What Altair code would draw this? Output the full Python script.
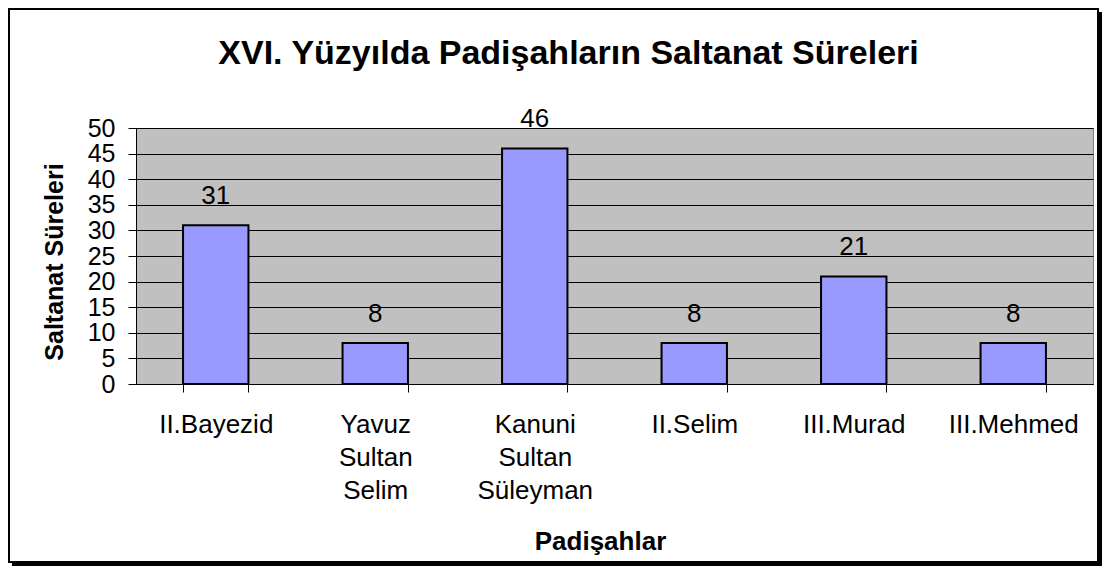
import altair as alt
import pandas as pd

# ---- data ----
sultans = ["II.Bayezid", "Yavuz Sultan Selim", "Kanuni Sultan Süleyman",
           "II.Selim", "III.Murad", "III.Mehmed"]
years = [31, 8, 46, 8, 21, 8]
y_ticks = [0, 5, 10, 15, 20, 25, 30, 35, 40, 45, 50]

title_text = "XVI. Yüzyılda Padişahların Saltanat Süreleri"
x_title = "Padişahlar"
y_title = "Saltanat Süreleri"

df = pd.DataFrame({"padisah": sultans, "sure": years})

FONT = "Liberation Sans"
W, H = 957, 256

x_enc = alt.X(
    "padisah:N", sort=None,
    scale=alt.Scale(paddingInner=0.59, paddingOuter=0.295),
    axis=alt.Axis(
        title=x_title, labelAngle=0, tickBand="extent", tickSize=8,
        tickColor="black", domainColor="black", grid=False,
        labelExpr="split(datum.label, ' ')", labelLineHeight=33,
        labelFont=FONT, labelFontSize=26, labelColor="black",
        labelBaseline="top", labelPadding=19, labelLimit=300,
        labelOverlap=False,
        titleFont=FONT, titleFontSize=26, titleFontWeight="bold",
        titleColor="black", titleX=464, titleY=165,
        titleBaseline="alphabetic", titleAlign="center",
    ),
)
y_enc = alt.Y(
    "sure:Q",
    scale=alt.Scale(domain=[0, 50], nice=False),
    axis=alt.Axis(
        title=y_title, values=y_ticks, tickCount=11, tickSize=8,
        tickColor="black", domainColor="black", gridColor="black",
        gridWidth=1, gridOpacity=1,
        labelFont=FONT, labelFontSize=25, labelColor="black", labelPadding=13,
        labelOverlap=False, labelBaseline="middle",
        titleFont=FONT, titleFontSize=25, titleFontWeight="bold",
        titleColor="black", titleX=-74, titleY=133.5, titleAngle=270,
        titleBaseline="alphabetic", titleAlign="center",
    ),
)

bars = alt.Chart(df).mark_bar(
    color="#9999FF", stroke="black", strokeWidth=2
).encode(x=x_enc, y=y_enc)

labels = alt.Chart(df).mark_text(
    font=FONT, fontSize=26, color="black", baseline="alphabetic", dy=-21
).encode(x=x_enc, y=y_enc, text="sure:Q")

one = alt.Data(values=[{"k": 1}])
frame = alt.Chart(one).mark_rect(
    fillOpacity=0, stroke="black", strokeWidth=2
).encode(x=alt.value(-127), x2=alt.value(962), y=alt.value(-119), y2=alt.value(434))
shadow_r = alt.Chart(one).mark_rule(color="black", strokeWidth=3).encode(
    x=alt.value(964.5), y=alt.value(-116), y2=alt.value(437.5))
shadow_b = alt.Chart(one).mark_rule(color="black", strokeWidth=3).encode(
    y=alt.value(436.5), x=alt.value(-124), x2=alt.value(966))

chart = alt.layer(frame, shadow_r, shadow_b, bars, labels).properties(
    width=W, height=H,
    autosize=alt.AutoSizeParams(type="none"),
    padding={"left": 128, "top": 120, "right": 12, "bottom": 184},
    title=alt.TitleParams(
        text=title_text, font=FONT, fontSize=34, fontWeight="bold",
        color="black", anchor="middle", frame="group", dx=-46,
        baseline="alphabetic", offset=-90,
    ),
).configure_view(fill="#C0C0C0", stroke="#808080", strokeWidth=1)

chart.save("out.html", embed_options={"renderer": "svg", "actions": False})
